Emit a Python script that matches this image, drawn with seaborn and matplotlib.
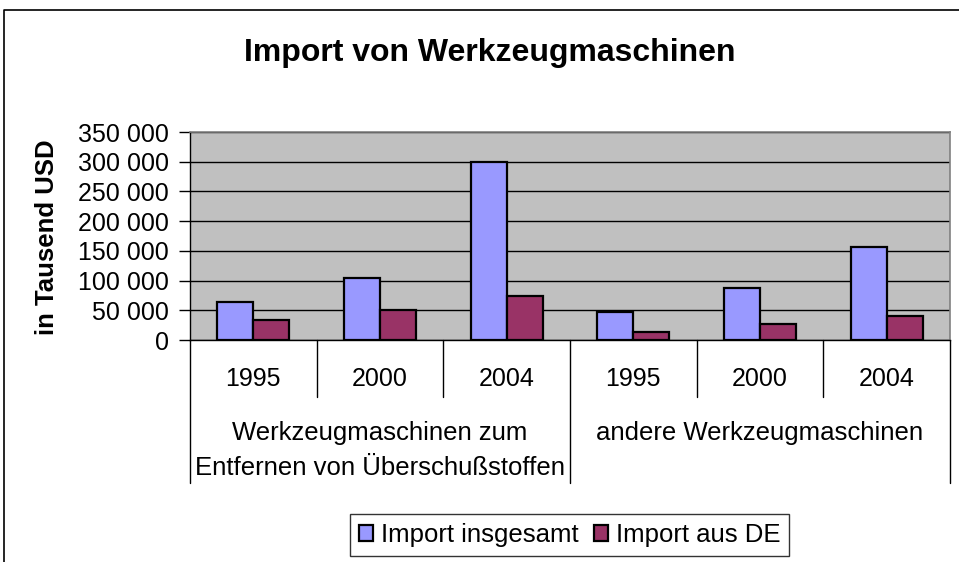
import pandas as pd
import matplotlib.pyplot as plt
import matplotlib.transforms as mtransforms
from matplotlib.lines import Line2D
from matplotlib.ticker import FuncFormatter
import seaborn as sns

# Data (thousand USD)
groups = ["Werkzeugmaschinen zum\nEntfernen von Überschußstoffen", "andere Werkzeugmaschinen"]
years = ["1995", "2000", "2004"]
series = ["Import insgesamt", "Import aus DE"]
import_total = [63500, 103500, 299000, 46500, 87000, 157000]
import_de = [33500, 50000, 73500, 13500, 27500, 40000]

cats = [f"{g[:5]} {y}" for g in groups for y in years]
df = pd.DataFrame({
    "cat": cats * 2,
    "series": [series[0]] * len(cats) + [series[1]] * len(cats),
    "value": import_total + import_de,
})

sns.set_theme(style="white")
plt.rcParams["font.family"] = ["Liberation Sans", "DejaVu Sans"]
for k in ["text.color", "axes.labelcolor", "xtick.color", "ytick.color"]:
    plt.rcParams[k] = "black"

fig = plt.figure(figsize=(9.59, 5.62), dpi=100)
ax = fig.add_axes([190 / 959, 1 - 340 / 562, 760 / 959, 208 / 562])
ax.set_facecolor("#C0C0C0")

sns.barplot(data=df, x="cat", y="value", hue="series", order=cats,
            palette=["#9999FF", "#993366"], saturation=1, width=0.57,
            edgecolor="black", linewidth=1.6, ax=ax, legend=True, zorder=3)

# axes / grid
ax.set_ylim(0, 350000)
ax.set_xlim(-0.5, len(cats) - 0.5)
ax.set_yticks(range(0, 350001, 50000))
ax.yaxis.set_major_formatter(FuncFormatter(lambda v, p: f"{int(v):,}".replace(",", " ")))
ax.yaxis.grid(True, color="black", linewidth=1)
ax.set_axisbelow(True)
ax.set_xlabel("")
ax.set_ylabel("")
for s in ["left", "bottom"]:
    ax.spines[s].set_color("black")
    ax.spines[s].set_linewidth(1)
for s in ["top", "right"]:
    ax.spines[s].set_color("#808080")
    ax.spines[s].set_linewidth(1.2)

ax.tick_params(axis="y", direction="out", length=8, width=1, color="black",
               labelsize=18, pad=7, left=True)
ax.set_xticks(range(len(cats)))
ax.set_xticklabels(years * len(groups))
ax.tick_params(axis="x", length=0, labelsize=18, pad=28)
for lbl in ax.get_xticklabels():
    lbl.set_va("center")

# category separators below the axis
trans = mtransforms.blended_transform_factory(ax.transData, ax.transAxes)
for i in range(len(cats) + 1):
    depth = 0.6875 if i % len(years) == 0 else 0.274
    ax.plot([i - 0.5, i - 0.5], [0, -depth], color="black", lw=1,
            transform=trans, clip_on=False)

group_y = [-0.531, -0.447]
for gi, g in enumerate(groups):
    ax.text(gi * len(years) + 1, group_y[gi], g, transform=trans, ha="center",
            va="center", multialignment="center", fontsize=18.5, linespacing=1.6)

# title and y label
fig.text(490 / 959, 1 - 53 / 562, "Import von Werkzeugmaschinen",
         ha="center", va="center", fontsize=23, fontweight="bold")
fig.text(47 / 959, 1 - 237 / 562, "in Tausend USD", rotation=90,
         ha="center", va="center", fontsize=18.5, fontweight="bold")

# legend
ax.get_legend().remove()
handles, labels = ax.get_legend_handles_labels()
leg = fig.legend(handles, labels, loc="center",
                 bbox_to_anchor=(569.5 / 959, 1 - 535 / 562), ncol=2,
                 fontsize=18.5, frameon=True, fancybox=False, edgecolor="black",
                 handlelength=0.55, handleheight=0.55, handletextpad=0.3,
                 columnspacing=0.6, borderpad=0.35)
leg.get_frame().set_linewidth(1)

# outer chart border
fig.add_artist(Line2D([4 / 959, 4 / 959, 1], [0, 1 - 10 / 562, 1 - 10 / 562],
                      color="black", lw=1.2, transform=fig.transFigure))

fig.savefig("out.png", dpi=100)
